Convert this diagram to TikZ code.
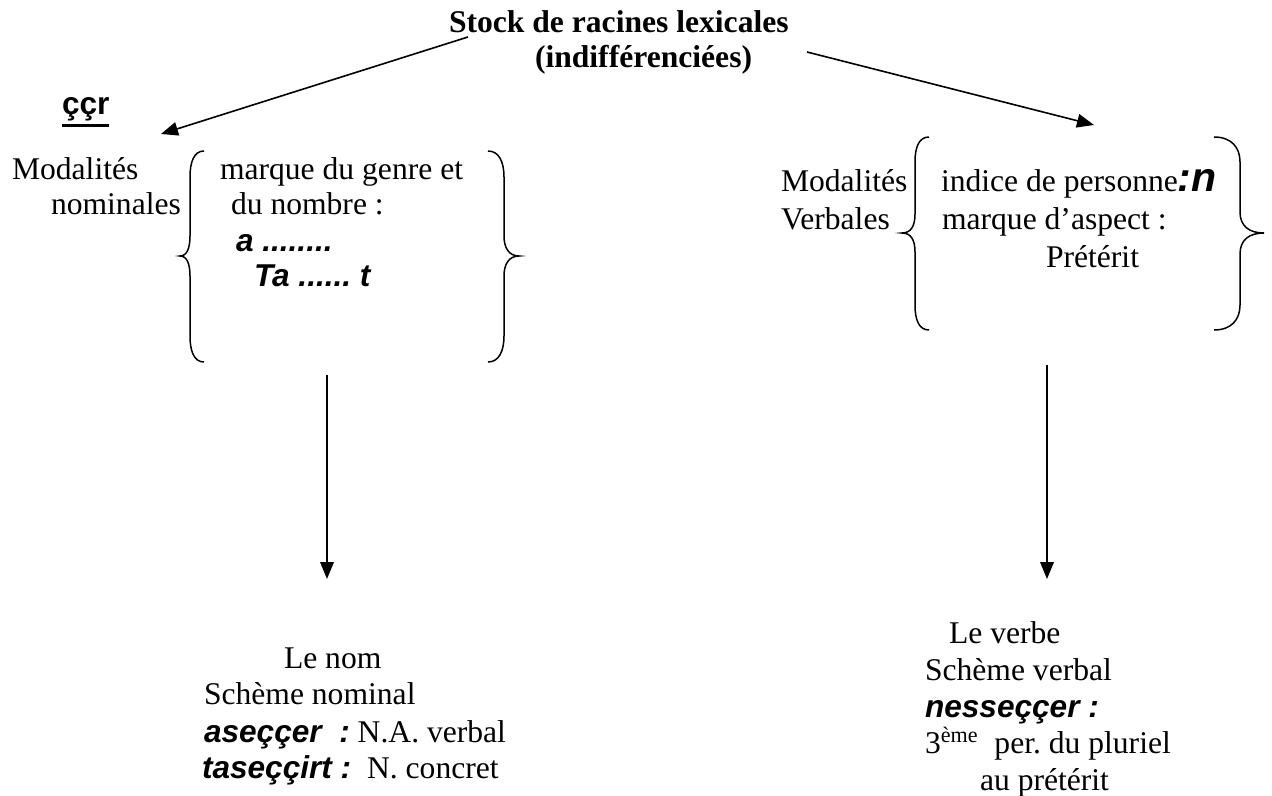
\documentclass[tikz,border=0pt]{standalone}
\usepackage{fontspec}
\setmainfont{Liberation Serif}
\setsansfont{Liberation Sans}
\usetikzlibrary{arrows.meta}
\frenchspacing
\tikzset{
  txt/.style={anchor=base west, inner sep=0pt, outer sep=0pt,
    font=\fontsize{15.8pt}{18pt}\selectfont},
  conn/.style={line width=0.8pt, -{Triangle[length=8.5pt,width=6.8pt]}},
  bracepath/.style={line width=0.75pt},
}
\newcommand{\ex}[1]{{\sffamily\bfseries\itshape #1}}
\newcommand{\rootword}[1]{\setbox0\hbox{#1}\vtop{\copy0\kern1.2pt\hrule height 1.3pt width \wd0}}
\begin{document}
\begin{tikzpicture}[x=0.5pt,y=-0.5pt]
\useasboundingbox[fill=white] (0,0) rectangle (1272,796);

% title
\node[txt] (t1) at (449,33) {\bfseries Stock de racines lexicales};
\node[txt] (t2) at (535,68) {\bfseries (indifférenciées)};
\coordinate (stockL) at (468,37);
\coordinate (stockR) at (807,52);

% root
\node[txt] (root) at (62,115) {\rootword{\sffamily\bfseries ççr}};

% nominal modalities
\node[txt] (modn1) at (12,180) {Modalités};
\node[txt] (modn2) at (51,215) {nominales};
\node[txt] (gn1) at (220,180) {marque du genre et};
\node[txt] (gn2) at (231,215) {du nombre :};
\node[txt] (gn3) at (236,252) {\ex{a ........}};
\node[txt] (gn4) at (254,287) {\ex{Ta ...... t}};
\coordinate (nomIn) at (161,134);

\draw[bracepath] (204,151) .. controls (194,151) and (190,162) .. (190,177)
  -- (190,236) .. controls (190,248) and (187,256) .. (180,256)
  .. controls (187,256) and (190,264) .. (190,276)
  -- (190,336) .. controls (190,351) and (194,362) .. (204,362);
\draw[bracepath] (488,151) .. controls (499,151) and (504,162) .. (504,177)
  -- (504,236) .. controls (504,248) and (509,256) .. (519,256)
  .. controls (509,256) and (504,264) .. (504,276)
  -- (504,336) .. controls (504,351) and (499,362) .. (488,362);

% verbal modalities
\node[txt] (modv1) at (781,192) {Modalités};
\node[txt] (modv2) at (781,230) {Verbales};
\node[txt] (vb1) at (941,192) {indice de personne\ex{\fontsize{20.5pt}{22pt}\selectfont:n}};
\node[txt] (vb2) at (942,230) {marque d’aspect :};
\node[txt] (vb3) at (1046,268) {Prétérit};
\coordinate (verbIn) at (1094,125);

\draw[bracepath] (929,137) .. controls (919,137) and (915,147) .. (915,162)
  -- (915,214) .. controls (915,226) and (911,233) .. (902,233)
  .. controls (911,233) and (915,240) .. (915,252)
  -- (915,305) .. controls (915,320) and (919,330) .. (929,330);
\draw[bracepath] (1214,137) .. controls (1231,137) and (1240,147) .. (1240,162)
  -- (1240,212) .. controls (1240,226) and (1249,233) .. (1264,233)
  .. controls (1249,233) and (1240,240) .. (1240,254)
  -- (1240,305) .. controls (1240,320) and (1231,330) .. (1214,330);

% vertical links
\coordinate (nomTop) at (327,375);
\coordinate (nomEnd) at (327,579);
\coordinate (verbTop) at (1047,365);
\coordinate (verbEnd) at (1047,579);

% results
\node[txt] (n1) at (284,668) {Le nom};
\node[txt] (n2) at (204,704) {Schème nominal};
\node[txt] (n3) at (204,742) {\ex{aseççer\ \ :} N.A. verbal};
\node[txt] (n4) at (202,778) {\ex{taseççirt :}\ \ N. concret};

\node[txt] (v1) at (949,643) {Le verbe};
\node[txt] (v2) at (925,680) {Schème verbal};
\node[txt] (v3) at (925,717) {\ex{nesseççer :}};
\node[txt] (v4) at (925,753) {3\textsuperscript{ème}\ \ per. du pluriel};
\node[txt] (v5) at (980,790) {au prétérit};

% connectors
\draw[conn] (stockL) -- (nomIn);
\draw[conn] (stockR) -- (verbIn);
\draw[conn] (nomTop) -- (nomEnd);
\draw[conn] (verbTop) -- (verbEnd);
\end{tikzpicture}
\end{document}
